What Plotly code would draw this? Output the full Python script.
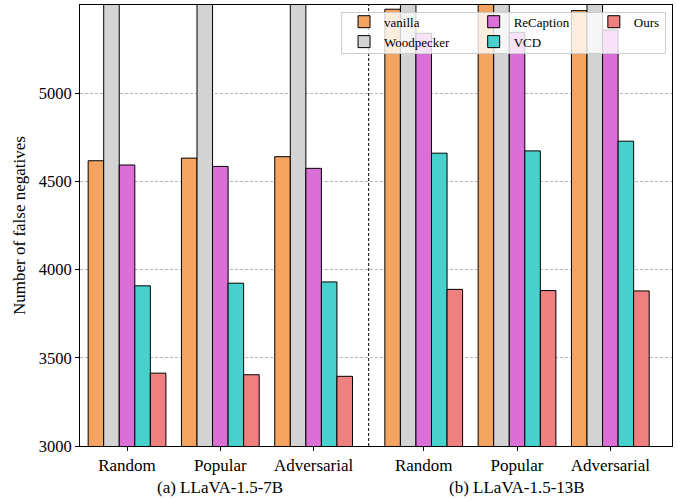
import plotly.graph_objects as go

categories = ["Random", "Popular", "Adversarial", "Random", "Popular", "Adversarial"]
group_pos = [0, 1, 2, 3.18, 4.18, 5.18]
series_names = ["vanilla", "Woodpecker", "ReCaption", "VCD", "Ours"]
vanilla = [4617, 4632, 4640, 5476, 5520, 5468]
woodpecker = [6050, 6060, 6070, 6150, 6160, 6170]
recaption = [4593, 4585, 4574, 5340, 5345, 5358]
vcd = [3908, 3923, 3930, 4660, 4673, 4728]
ours = [3413, 3404, 3395, 3888, 3881, 3879]
colors = ["#F4A460", "#D3D3D3", "#DA70D6", "#48D1CC", "#F08080"]
subtitles = ["(a) LLaVA-1.5-7B", "(b) LLaVA-1.5-13B"]

series_values = [vanilla, woodpecker, recaption, vcd, ours]
legend_ids = ["legend", "legend", "legend2", "legend2", "legend3"]
bw = 1 / 6

FONT = "Liberation Serif, Times New Roman, serif"
fig = go.Figure()
for i, (name, vals, col, lg) in enumerate(zip(series_names, series_values, colors, legend_ids)):
    off = (i - 2) * bw
    fig.add_trace(go.Bar(
        x=[p + off for p in group_pos], y=vals, width=bw, name=name,
        marker=dict(color=col, line=dict(color="black", width=1)),
        legend=lg, showlegend=True,
    ))

fig.add_shape(type="line", xref="x", yref="paper", x0=2.59, x1=2.59, y0=0, y1=1,
              line=dict(color="black", width=1, dash="3px,2px"))

# legend frame
fig.add_shape(type="rect", xref="paper", yref="paper", x0=0.442, x1=0.989, y0=0.890, y1=0.983,
              line=dict(color="#cccccc", width=1), fillcolor="rgba(255,255,255,0.8)", layer="above")

for j, t in enumerate(subtitles):
    fig.add_annotation(x=(group_pos[3 * j] + group_pos[3 * j + 2]) / 2, y=-0.095, xref="x", yref="paper",
                       text=t, showarrow=False, yanchor="middle", font=dict(size=17, color="black", family=FONT))

leg_common = dict(bgcolor="rgba(0,0,0,0)", borderwidth=0, font=dict(size=13, family=FONT, color="black"),
                  yanchor="top", xanchor="left", y=0.996, orientation="v", tracegroupgap=0)
fig.update_layout(
    width=678, height=499,
    margin=dict(l=80, r=6, t=5, b=53),
    plot_bgcolor="white", paper_bgcolor="white",
    barmode="overlay",
    font=dict(family=FONT, size=17, color="black"),
    legend=dict(x=0.446, **leg_common),
    legend2=dict(x=0.665, **leg_common),
    legend3=dict(x=0.868, **leg_common),
    xaxis=dict(range=[-0.504, 5.841], tickmode="array", tickvals=group_pos, ticktext=categories,
               showline=True, linecolor="black", linewidth=1, mirror=True,
               ticks="outside", ticklen=4, tickcolor="black", showgrid=False, zeroline=False,
               tickfont=dict(size=17)),
    yaxis=dict(range=[3000, 5500], tickvals=[3000, 3500, 4000, 4500, 5000],
               showline=True, linecolor="black", linewidth=1, mirror=True,
               ticks="outside", ticklen=4, tickcolor="black",
               showgrid=True, gridcolor="#b8b8b8", griddash="3px,2px", gridwidth=0.8, zeroline=False,
               title=dict(text="Number of false negatives", font=dict(size=17), standoff=8),
               tickfont=dict(size=16.5)),
)
fig.write_html("out.html", config={"displayModeBar": False},
               post_script="document.body.style.margin='0px';")
